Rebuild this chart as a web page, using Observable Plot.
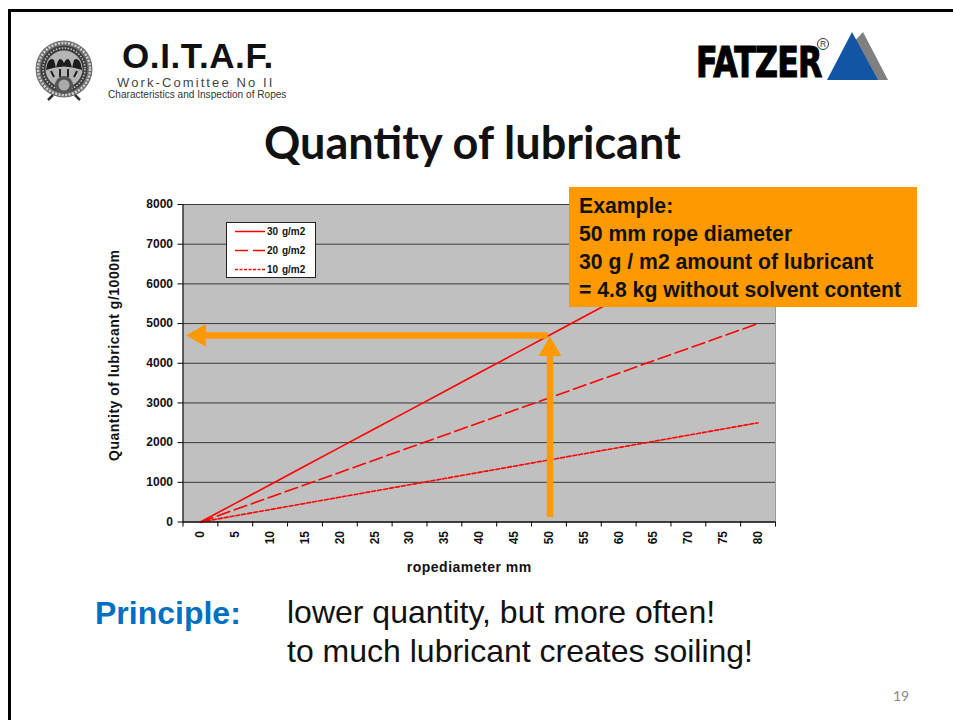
<!DOCTYPE html>
<html><head><meta charset="utf-8">
<script src="https://cdn.jsdelivr.net/npm/d3@7"></script>
<script src="https://cdn.jsdelivr.net/npm/@observablehq/plot@0.6"></script>
<style>
html,body{margin:0;padding:0;background:#fff;}
#page{position:relative;width:953px;height:720px;overflow:hidden;font-family:"Liberation Sans",Arial,sans-serif;background:#fff;}
#page>*{position:absolute;}
.t{white-space:nowrap;line-height:1;}
#frameT{left:8px;top:9px;width:945px;height:3px;background:#000;}
#frameL{left:8px;top:9px;width:3px;height:711px;background:#000;}
#box{left:569px;top:187px;width:348px;height:120px;background:#ff9900;font-weight:bold;font-size:21.2px;color:#111;box-sizing:border-box;padding:5px 0 0 10px;line-height:28px;white-space:nowrap;}
#legend{left:226px;top:222px;width:90px;height:56px;background:#fff;border:1px solid #222;box-sizing:border-box;}
#legend svg{display:block;}
svg.chart text{font-family:"Liberation Sans",Arial,sans-serif;font-weight:bold;}
</style></head><body>
<div id="page">
<div id="frameT"></div><div id="frameL"></div>

<svg style="left:34px;top:39px" width="60" height="62" viewBox="0 0 60 62">
  <circle cx="30" cy="30" r="28.5" fill="#6e6e6e"/>
  <circle cx="30" cy="30" r="26" fill="none" stroke="#d0d0d0" stroke-width="2.4" stroke-dasharray="2 1.4"/>
  <circle cx="30" cy="30" r="23.5" fill="#3d3d3d"/>
  <circle cx="30" cy="30" r="21" fill="none" stroke="#bbb" stroke-width="1.6" stroke-dasharray="1.5 1.5"/>
  <circle cx="30" cy="30" r="18.5" fill="#b5b5b5"/>
  <path d="M12 31 Q14 17 20 21 L22 29 Q25 14 30 24 Q35 14 38 29 L40 21 Q46 17 48 31 Q30 24 12 31Z" fill="#1c1c1c"/>
  <path d="M17 32 L20 38 M26 30 L26 38 M34 30 L34 38 M43 32 L40 38" stroke="#222" stroke-width="2"/>
  <circle cx="30" cy="46" r="9" fill="#555"/>
  <circle cx="30" cy="46" r="5.5" fill="#aaa"/>
  <path d="M19 56 L14 61 M41 56 L46 61" stroke="#333" stroke-width="2.5"/>
</svg>
<div class="t" style="left:122px;top:38px;font-size:35px;font-weight:bold;color:#111;letter-spacing:.6px;">O.I.T.A.F.</div>
<div class="t" style="left:117px;top:76px;font-size:13px;color:#444;letter-spacing:2.1px;">Work-Comittee No II</div>
<div class="t" style="left:108px;top:90px;font-size:10.1px;color:#333;">Characteristics and Inspection of Ropes</div>

<div class="t" style="left:696px;top:41px;font-family:'DejaVu Sans';font-weight:bold;font-size:36px;color:#000;transform-origin:0 0;transform:scale(.88,1.2);letter-spacing:-1px;-webkit-text-stroke:1px #000;">FATZER</div>
<div class="t" style="left:817px;top:38px;font-size:8.5px;color:#333;border:1px solid #333;border-radius:50%;width:10px;height:10px;text-align:center;line-height:10px;">R</div>
<svg style="left:826px;top:30px" width="64" height="52" viewBox="0 0 64 52">
  <polygon points="37,2 62,50 40,50 26,14" fill="#808080"/>
  <polygon points="26,2 52,50 1,50" fill="#1255a5"/>
</svg>

<div class="t" style="left:264px;top:120px;font-family:Lato,'Open Sans',sans-serif;font-weight:bold;font-size:45px;color:#111;">Quantity of lubricant</div>

<div id="chart" style="left:0;top:190px"></div>

<div id="legend"></div>
<div id="box">Example:<br>50 mm rope diameter<br>30 g / m2 amount of lubricant<br>= 4.8 kg without solvent content</div>

<div class="t" style="left:95px;top:597px;font-size:32px;font-weight:bold;color:#0070c0;">Principle:</div>
<div class="t" style="left:287px;top:593px;font-size:32px;color:#111;line-height:39px;">lower quantity, but more often!<br>to much lubricant creates soiling!</div>
<div class="t" style="left:893px;top:689px;font-family:Lato,sans-serif;font-size:14px;color:#888;">19</div>
</div>

<script>
const diameters = [0,5,10,15,20,25,30,35,40,45,50,55,60,65,70,75,80];
const g30 = [0,470,940,1410,1880,2350,2820,3290,3760,4230,4700,5170,5640,6090,6560,7030,7500];
const g20 = [0,313,625,938,1250,1563,1875,2188,2500,2813,3125,3438,3750,4063,4375,4688,5000];
const g10 = [0,156,313,469,625,781,938,1094,1250,1406,1563,1719,1875,2031,2188,2344,2500];
const seriesNames = ["30 g/m2","20 g/m2","10 g/m2"];
const seriesDash = ["none","13 5","4 2"];
const yTicks = [0,1000,2000,3000,4000,5000,6000,7000,8000];
const xBandEdges = [-2.5,2.5,7.5,12.5,17.5,22.5,27.5,32.5,37.5,42.5,47.5,52.5,57.5,62.5,67.5,72.5,77.5,82.5];
const xDomain = [-2.5,82.5];
const yDomain = [0,8000];
const xLabel = "ropediameter mm";
const yLabel = "Quantity of lubricant g/1000m";
// annotation arrows, in chart units
const hArrow = {x1:49.9,x2:0.7,y:4700,tipX:-0.15};
const vArrow = {x:50.15,y1:113,y2:4400,tipY:4346};
const orange = "#ff9900";

const rows = [g30,g20,g10].flatMap((vals,i)=>vals.map((v,j)=>({d:diameters[j],v,name:seriesNames[i]})));

const plot = Plot.plot({
  width:953, height:400,
  marginLeft:182.5, marginRight:178, marginTop:14, marginBottom:68.5,
  x:{domain:xDomain},
  y:{domain:yDomain},
  style:{background:"transparent",overflow:"visible"},
  className:"chart",
  marks:[
    Plot.frame({fill:"#c0c0c0",stroke:"#9a9a9a",strokeWidth:1}),
    Plot.gridY(yTicks,{stroke:"#3a3a3a",strokeOpacity:1,strokeWidth:1}),
    ...seriesNames.map((n,i)=>Plot.line(rows.filter(r=>r.name===n),{x:"d",y:"v",stroke:"#ff0000",strokeWidth:1.6,strokeDasharray:seriesDash[i]})),
    Plot.ruleX([xDomain[0]],{stroke:"#000",strokeWidth:1}),
    Plot.ruleY([0],{stroke:"#000",strokeWidth:1.2}),
    Plot.axisY({ticks:yTicks,tickSize:5,tickPadding:5,fontSize:12,label:null,stroke:"#000",color:"#111",tickFormat:d=>String(d)}),
    Plot.axisX({ticks:xBandEdges,tickSize:5,tickFormat:()=>"",label:null,stroke:"#000"}),
    Plot.axisX({ticks:diameters,tickSize:0,tickPadding:9,tickRotate:-90,fontSize:12,label:null,color:"#111",tickFormat:d=>String(d)}),
    Plot.text([xLabel],{frameAnchor:"bottom",dx:-10,dy:50,fontSize:14,fontWeight:"bold",fill:"#111"}),
    Plot.text([yLabel],{frameAnchor:"left",dx:-68,dy:-8,rotate:-90,fontSize:14,fontWeight:"bold",fill:"#111",textAnchor:"middle"}),
    Plot.ruleY([hArrow],{y:"y",x1:"x1",x2:"x2",stroke:orange,strokeWidth:6.5}),
    Plot.dot([hArrow],{x:"tipX",y:"y",symbol:"triangle",r:7.5,fill:orange,stroke:orange,rotate:-90}),
    Plot.ruleX([vArrow],{x:"x",y1:"y1",y2:"y2",stroke:orange,strokeWidth:6.5}),
    Plot.dot([vArrow],{x:"x",y:"tipY",symbol:"triangle",r:7.5,fill:orange,stroke:orange})
  ]
});
d3.select(plot).selectAll("text").filter(function(){return this.textContent===xLabel||this.textContent===yLabel;}).style("letter-spacing",".5px");
document.getElementById("chart").appendChild(plot);

// legend, drawn from the same series lists
const lg = d3.create("svg").attr("width",88).attr("height",54);
seriesNames.forEach((n,i)=>{
  const yy = 8.5 + i*19;
  lg.append("line").attr("x1",8).attr("x2",38).attr("y1",yy).attr("y2",yy)
    .attr("stroke","#ff0000").attr("stroke-width",1.5).attr("stroke-dasharray",seriesDash[i]==="none"?null:(i===1?"13 5":"3 1.5"));
  lg.append("text").attr("x",40).attr("y",yy+3.4).text(n)
    .attr("font-family","Liberation Sans, Arial").attr("font-weight","bold").attr("font-size",10).attr("fill","#111").attr("word-spacing",1);
});
document.getElementById("legend").appendChild(lg.node());
</script>
</body></html>
